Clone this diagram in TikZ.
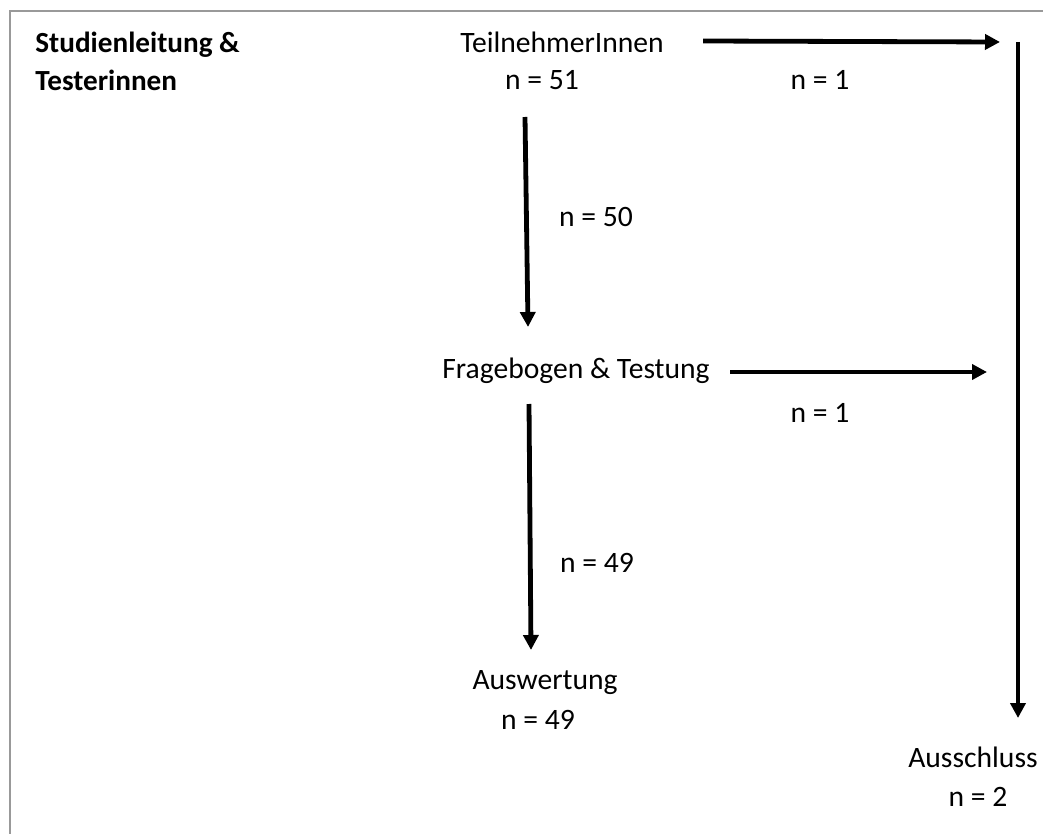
\documentclass[tikz,border=0pt]{standalone}
\usepackage{fontspec}
\setmainfont{Carlito}
\usepackage{tikz}
\usetikzlibrary{arrows.meta}

\begin{document}
\begin{tikzpicture}[x=0.5pt, y=-0.5pt, font=\fontsize{14.8}{17}\selectfont,
    flow/.style={-{Triangle[length=7.5pt,width=7.5pt]}, line width=2.4pt, black},
    lbl/.style={inner sep=0pt}]
  \useasboundingbox (0,0) rectangle (1043,834);
  \draw[gray!80, line width=1pt] (10,834) -- (10,11) -- (1043,11);
  % texts
  \node[lbl, anchor=west, font=\fontsize{14.6}{17}\selectfont\bfseries] (lead) at (35,45) {Studienleitung \&};
  \node[lbl, anchor=west, font=\fontsize{14.6}{17}\selectfont\bfseries] (test) at (35,80) {Testerinnen};
  \node[lbl] (teil) at (562,42) {TeilnehmerInnen};
  \node[lbl] (n51) at (542,80) {n = 51};
  \node[lbl] (frage) at (576,371) {Fragebogen \& Testung};
  \node[lbl] (ausw) at (545,683) {Auswertung};
  \node[lbl] (n49b) at (538,720) {n = 49};
  \node[lbl] (aussch) at (973,757) {Ausschluss};
  \node[lbl] (n2) at (978,797) {n = 2};
  \node[lbl] (n1a) at (820,80) {n = 1};
  \node[lbl] (n1b) at (820,413) {n = 1};
  \node[lbl] (n50) at (596,217) {n = 50};
  \node[lbl] (n49a) at (597,563) {n = 49};
  % arrow ends
  \coordinate (a1) at (525,117); \coordinate (b1) at (528,327);
  \coordinate (a2) at (529,404); \coordinate (b2) at (531,650);
  \coordinate (h1) at (703,41);  \coordinate (k1) at (1000,42);
  \coordinate (h2) at (730,372); \coordinate (k2) at (987,372);
  \coordinate (v1) at (1018,42); \coordinate (w1) at (1018,718);
  \draw[flow] (a1) -- (b1);
  \draw[flow] (a2) -- (b2);
  \draw[flow] (h1) -- (k1);
  \draw[flow] (h2) -- (k2);
  \draw[flow] (v1) -- (w1);
\end{tikzpicture}
\end{document}
